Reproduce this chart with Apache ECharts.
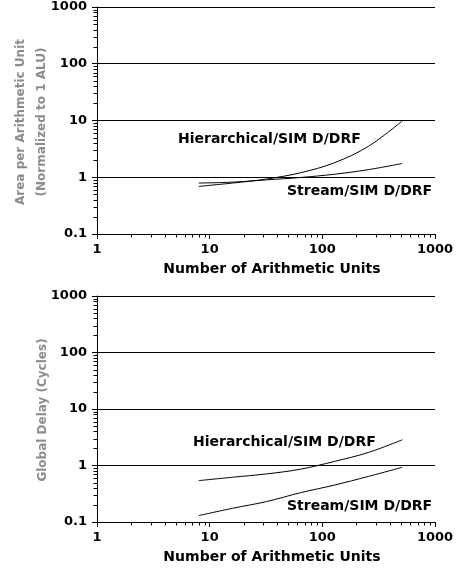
<!DOCTYPE html>
<html>
<head>
<meta charset="utf-8">
<script src="https://cdn.jsdelivr.net/npm/echarts@6/dist/echarts.min.js"></script>
<style>html,body{margin:0;padding:0;background:#fff}#c{width:458px;height:569px}</style>
</head>
<body>
<div id="c"></div>
<script>
// Data
const units = [8, 16, 32, 64, 128, 256, 512];
const areaHier = [0.69, 0.79, 0.93, 1.2, 1.8, 3.5, 9.8];
const areaStream = [0.79, 0.82, 0.9, 0.99, 1.13, 1.36, 1.75];
const delayHier = [0.54, 0.62, 0.71, 0.86, 1.18, 1.7, 2.85];
const delayStream = [0.13, 0.175, 0.23, 0.33, 0.45, 0.64, 0.93];
const xDecades = [1, 10, 100, 1000];
const yDecades = [0.1, 1, 10, 100, 1000];
const minorMult = [2, 3, 4, 5, 6, 7, 8, 9];
const labelHier = 'Hierarchical/SIM D/DRF';
const labelStream = 'Stream/SIM D/DRF';
const xTitle = 'Number of Arithmetic Units';
const yTitleTop = ['Area per Arithmetic Unit', '(Normalized to 1 ALU)'];
const yTitleBottom = 'Global Delay (Cycles)';

const FONT = 'DejaVu Sans';
const xMinor = [];
xDecades.slice(0, -1).forEach(d => minorMult.forEach(m => xMinor.push(d * m)));
const yMinor = [];
yDecades.slice(0, -1).forEach(d => minorMult.forEach(m => yMinor.push(+(d * m).toPrecision(3))));

const chart = echarts.init(document.getElementById('c'), null, {renderer: 'canvas'});

function fmt(v) { return String(+(+v).toPrecision(3)); }

function xAxis(gi) {
  return {
    type: 'log', logBase: 10, min: 1, max: 1000, gridIndex: gi,
    axisLine: {show: true, onZero: false, lineStyle: {color: '#000', width: 1}},
    axisTick: {show: true, length: 5, lineStyle: {color: '#000'}},
    axisLabel: {color: '#000', fontFamily: FONT, fontWeight: 'bold', fontSize: 13, margin: 9, formatter: fmt},
    splitLine: {show: false},
    name: xTitle, nameLocation: 'middle', nameGap: 28,
    nameTextStyle: {color: '#000', fontFamily: FONT, fontWeight: 'bold', fontSize: 14, padding: [0, 0, 0, 12]}
  };
}
function yAxis(gi) {
  return {
    type: 'log', logBase: 10, min: 0.1, max: 1000, gridIndex: gi,
    axisLine: {show: true, onZero: false, lineStyle: {color: '#000', width: 1}},
    axisTick: {show: true, length: 5, lineStyle: {color: '#000'}},
    axisLabel: {color: '#000', fontFamily: FONT, fontWeight: 'bold', fontSize: 13, margin: 10, formatter: fmt},
    splitLine: {show: true, lineStyle: {color: '#000', width: 1}}
  };
}
function minorSeries(gi) {
  const data = xMinor.map(v => [v, 0.1, 0]).concat(yMinor.map(v => [1, v, 1]));
  return {
    type: 'custom', xAxisIndex: gi, yAxisIndex: gi, silent: true, clip: false, z: 5,
    data: data,
    encode: {x: 0, y: 1},
    renderItem: function (params, api) {
      const p = api.coord([api.value(0), api.value(1)]);
      const isX = api.value(2) === 0;
      const x = Math.round(p[0]) + 0.5, y = Math.round(p[1]) + 0.5;
      return {
        type: 'line',
        shape: isX ? {x1: x, y1: y, x2: x, y2: y + 3} : {x1: x, y1: y, x2: x - 4, y2: y},
        style: {stroke: '#000', lineWidth: 1}
      };
    }
  };
}
function lineSeries(gi, vals) {
  return {
    type: 'line', xAxisIndex: gi, yAxisIndex: gi, showSymbol: false, symbol: 'none',
    smooth: 0.35, data: units.map((u, i) => [u, vals[i]]),
    lineStyle: {color: '#000', width: 1}, silent: true
  };
}
function txt(x, y, s) {
  return {
    type: 'text', x: x, y: y,
    style: {text: s, fill: '#000', font: 'bold 14px "' + FONT + '"', textAlign: 'left', textVerticalAlign: 'middle'}
  };
}
function vtxt(x, y, s) {
  return {
    type: 'text', x: x, y: y, rotation: Math.PI / 2,
    style: {text: s, fill: '#8c8c8c', font: 'bold 12px "' + FONT + '"', textAlign: 'center', textVerticalAlign: 'middle',
      shadowBlur: 2, shadowColor: 'rgba(120,120,120,0.6)'}
  };
}

chart.setOption({
  animation: false,
  backgroundColor: '#fff',
  grid: [
    {left: 97, top: 7, width: 338, height: 227},
    {left: 97, top: 296, width: 338, height: 226}
  ],
  xAxis: [xAxis(0), xAxis(1)],
  yAxis: [yAxis(0), yAxis(1)],
  series: [
    lineSeries(0, areaHier), lineSeries(0, areaStream),
    lineSeries(1, delayHier), lineSeries(1, delayStream),
    minorSeries(0), minorSeries(1)
  ],
  graphic: [
    txt(178, 139, labelHier),
    txt(287, 191, labelStream),
    txt(193, 442, labelHier),
    txt(287, 506, labelStream),
    vtxt(21, 122, yTitleTop[0]),
    vtxt(42, 122, yTitleTop[1]),
    vtxt(43, 410, yTitleBottom)
  ]
});
</script>
</body>
</html>
